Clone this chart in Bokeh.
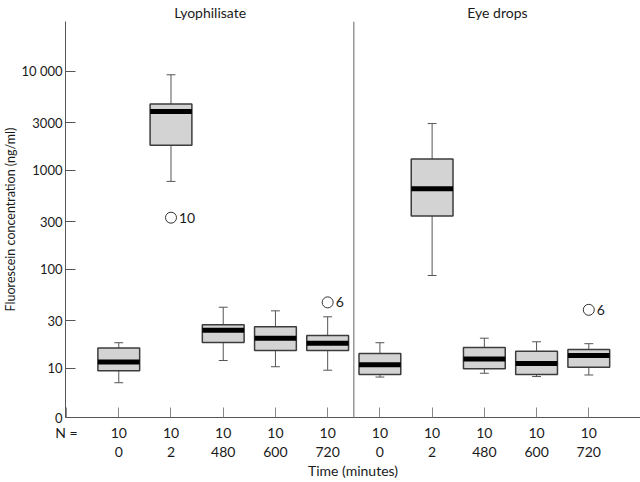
import math
from bokeh.plotting import figure
from bokeh.models import (FixedTicker, CustomJSTickFormatter, LinearAxis, Span,
                          ColumnDataSource)
from bokeh.core.properties import value
from bokeh.embed import file_html
from bokeh.resources import INLINE

# ---------------- data ----------------
panel_titles = ["Lyophilisate", "Eye drops"]
panel_centers = [1.75, 7.25]
time_labels = ["0", "2", "480", "600", "720", "0", "2", "480", "600", "720"]
n_labels = ["10", "10", "10", "10", "10", "10", "10", "10", "10", "10"]
whisker_low = [7.1, 767, 11.9, 10.3, 9.5, 8.1, 86, 8.85, 8.2, 8.5]
q1 = [9.4, 1780, 18.1, 15.0, 15.0, 8.6, 344, 9.8, 8.6, 10.2]
median = [11.5, 3890, 24.1, 20.0, 17.8, 10.8, 647, 12.3, 11.1, 13.4]
q3 = [15.9, 4630, 27.3, 26.1, 21.3, 14.0, 1288, 16.1, 14.8, 15.4]
whisker_high = [18.0, 9160, 41.1, 37.8, 32.9, 18.0, 2945, 20.0, 18.4, 17.6]
outlier_slot = [1, 4, 9]
outlier_value = [330, 46, 38.7]
outlier_case = ["10", "6", "6"]
y_tick_values = [10 ** 0.5, 10, 30, 100, 300, 1000, 3000, 10000]
y_tick_labels = ["0", "10", "30", "100", "300", "1000", "3000", "10 000"]

FONT = "Lato"
TXT = "#1a1a1a"

xs = list(range(len(time_labels)))
box_w = 0.8
cap_w = 0.17
src = ColumnDataSource(dict(
    x=xs, lo=whisker_low, q1=q1, med=median, q3=q3, hi=whisker_high,
    left=[x - box_w / 2 for x in xs], right=[x + box_w / 2 for x in xs],
    capl=[x - cap_w / 2 for x in xs], capr=[x + cap_w / 2 for x in xs],
))

p = figure(width=640, height=482, y_axis_type="log",
           x_range=(-1.02, 9.99), y_range=(10 ** 0.5, 10 ** 4.5),
           output_backend="svg", toolbar_location=None,
           min_border_left=60, min_border_right=0, min_border_top=20, min_border_bottom=65)
p.outline_line_color = None
p.xgrid.visible = False
p.ygrid.visible = False
p.background_fill_color = "white"
p.border_fill_color = "white"

# whiskers
for y0, y1 in (("q3", "hi"), ("lo", "q1")):
    p.segment(x0="x", y0=y0, x1="x", y1=y1, source=src, line_color="#555555", line_width=1)
for yy in ("hi", "lo"):
    p.segment(x0="capl", y0=yy, x1="capr", y1=yy, source=src, line_color="#555555", line_width=1)
# boxes
p.quad(left="left", right="right", bottom="q1", top="q3", source=src,
       fill_color="#d3d3d3", line_color="#3c3c3c", line_width=1.5)
# medians
p.segment(x0="left", y0="med", x1="right", y1="med", source=src,
          line_color="black", line_width=5, line_cap="butt")

# outliers
osrc = ColumnDataSource(dict(x=outlier_slot, y=outlier_value, t=outlier_case))
p.scatter("x", "y", source=osrc, marker="circle", size=11, fill_color=None,
          line_color="#333333", line_width=1)
p.text("x", "y", text="t", source=osrc, x_offset=8, text_baseline="middle",
       text_align="left", text_font=value(FONT), text_font_size="14px", text_color=TXT)

# divider between panels
p.add_layout(Span(location=4.5, dimension="height", line_color="#999999", line_width=1.5))

LOOKUP = """
for (let i = 0; i < tv.length; i++) { if (Math.abs(tv[i] - tick) < 1e-6 * Math.max(1, Math.abs(tick))) return labs[i]; }
return '';
"""

# y axis
yax = p.yaxis[0]
yax.ticker = FixedTicker(ticks=y_tick_values, minor_ticks=[])
yax.formatter = CustomJSTickFormatter(args=dict(tv=y_tick_values, labs=y_tick_labels), code="""
for (let i = 0; i < tv.length; i++) {
  if (Math.abs(Math.log10(tv[i]) - Math.log10(tick)) < 0.01) return labs[i];
}
return "";
""")
yax.major_tick_in = 10
yax.major_tick_out = 0
yax.minor_tick_line_color = None
yax.axis_line_color = "#555555"
yax.major_tick_line_color = "#555555"
yax.major_label_standoff = 3
yax.major_label_text_font = FONT
yax.major_label_text_font_size = "13px"
yax.major_label_text_color = TXT
yax.axis_label = "Fluorescein concentration (ng/ml)"
yax.axis_label_standoff = 0
yax.axis_label_text_font = FONT
yax.axis_label_text_font_size = "12.5px"
yax.axis_label_text_font_style = "normal"
yax.axis_label_text_color = TXT

# x axis (N row) -- the row caption sits at the left edge of the frame
row_ticks = [-1] + xs
n_row = ["N ="] + n_labels
time_row = [""] + time_labels
xax = p.xaxis[0]
xax.ticker = FixedTicker(ticks=row_ticks, minor_ticks=[])
xax.formatter = CustomJSTickFormatter(args=dict(tv=row_ticks, labs=n_row), code=LOOKUP)
xax.major_tick_in = 10
xax.major_tick_out = 0
xax.minor_tick_line_color = None
xax.axis_line_color = "#555555"
xax.major_tick_line_color = "#888888"
xax.major_label_standoff = 6
xax.major_label_text_font = FONT
xax.major_label_text_font_size = "14px"
xax.major_label_text_color = TXT

# second x axis (time row)
ax2 = LinearAxis(ticker=FixedTicker(ticks=row_ticks, minor_ticks=[]),
                 formatter=CustomJSTickFormatter(args=dict(tv=row_ticks, labs=time_row), code=LOOKUP),
                 axis_line_color=None, major_tick_line_color=None, minor_tick_line_color=None,
                 major_tick_in=0, major_tick_out=0,
                 major_label_standoff=3, major_label_text_font=FONT,
                 major_label_text_font_size="14px", major_label_text_color=TXT,
                 axis_label="Time (minutes)", axis_label_standoff=2,
                 axis_label_text_font=FONT, axis_label_text_font_size="14px",
                 axis_label_text_font_style="normal", axis_label_text_color=TXT)
p.add_layout(ax2, "below")

# panel titles as an axis above the frame
top_ax = LinearAxis(ticker=FixedTicker(ticks=panel_centers, minor_ticks=[]),
                    formatter=CustomJSTickFormatter(args=dict(tv=panel_centers, labs=panel_titles),
                                                    code=LOOKUP),
                    axis_line_color=None, major_tick_line_color=None, minor_tick_line_color=None,
                    major_tick_in=0, major_tick_out=0,
                    major_label_standoff=1, major_label_text_font=FONT,
                    major_label_text_font_size="14px", major_label_text_color=TXT)
p.add_layout(top_ax, "above")

open("out.html", "w").write(file_html(p, INLINE))
